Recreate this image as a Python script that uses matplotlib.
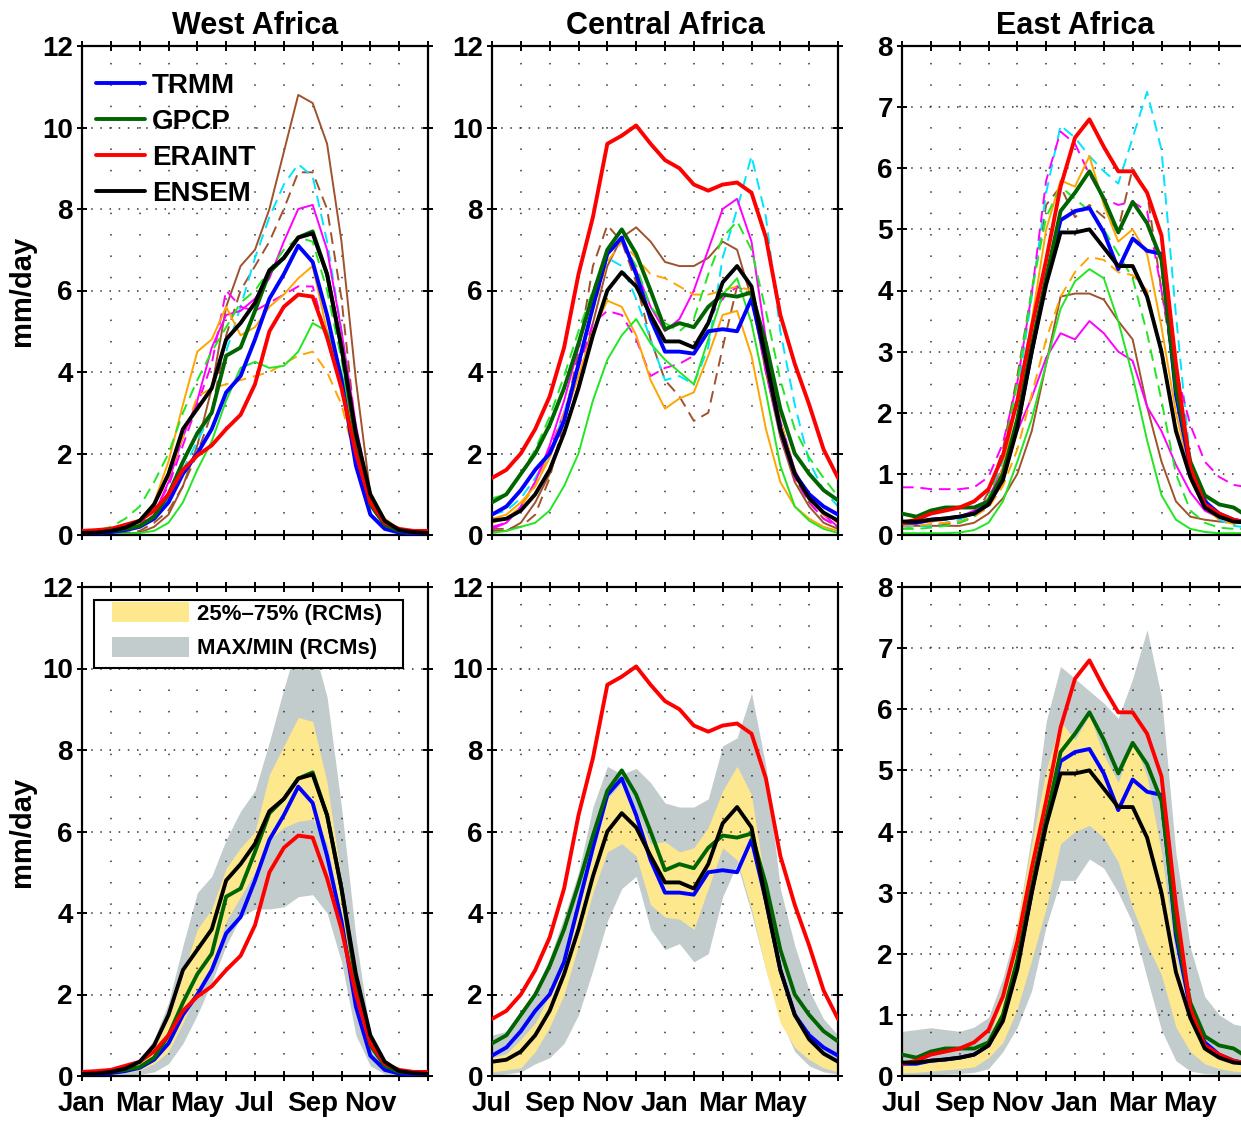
import numpy as np
import matplotlib
matplotlib.use("Agg")
import matplotlib.pyplot as plt
from matplotlib.patches import Patch, Rectangle

plt.rcParams['font.family'] = ['Liberation Sans', 'DejaVu Sans']
plt.rcParams['font.weight'] = 'bold'

# ---------------- data (mm/day, half-month steps over a 12-month cycle) ----------------
regions = ["West Africa", "Central Africa", "East Africa"]
months_wa = ["Jan", "Mar", "May", "Jul", "Sep", "Nov"]
months_jul = ["Jul", "Sep", "Nov", "Jan", "Mar", "May"]

# West Africa
trmm_wa = [0.05,0.05,0.07,0.12,0.2,0.4,0.8,1.5,2.0,2.6,3.5,3.9,4.8,5.8,6.4,7.1,6.7,5.4,3.8,1.7,0.5,0.15,0.06,0.04,0.04]
gpcp_wa = [0.08,0.08,0.1,0.15,0.22,0.45,1.0,1.8,2.5,3.0,4.4,4.6,5.5,6.45,6.8,7.3,7.45,6.4,4.6,2.3,0.75,0.25,0.1,0.08,0.08]
era_wa = [0.1,0.12,0.15,0.25,0.35,0.6,1.0,1.6,1.95,2.2,2.6,2.95,3.7,5.0,5.6,5.9,5.85,4.85,3.6,2.0,0.8,0.3,0.15,0.1,0.1]
ens_wa = [0.05,0.06,0.1,0.18,0.35,0.75,1.5,2.6,3.1,3.6,4.8,5.2,5.7,6.5,6.8,7.3,7.4,6.4,4.6,2.5,1.0,0.35,0.12,0.07,0.05]
brown_s_wa = [0.02,0.02,0.02,0.03,0.06,0.2,0.5,1.2,2.2,3.6,5.6,6.6,7.0,8.0,9.4,10.8,10.6,9.6,7.2,3.8,1.0,0.3,0.1,0.05,0.05]
brown_d_wa = [0.02,0.02,0.03,0.05,0.1,0.3,0.6,1.2,2.0,3.0,4.9,6.0,6.6,7.2,8.0,8.9,8.9,8.0,5.8,2.5,0.5,0.15,0.05,0.02,0.02]
cyan_d_wa = [0.03,0.03,0.05,0.1,0.2,0.45,0.9,1.6,2.3,3.0,4.5,5.6,6.8,7.8,8.6,9.1,8.8,7.2,5.0,2.5,0.7,0.25,0.08,0.04,0.03]
mag_s_wa = [0.03,0.03,0.05,0.1,0.2,0.5,1.3,2.4,3.3,4.6,5.4,5.5,5.8,6.3,7.2,8.0,8.1,7.0,5.0,2.7,0.9,0.3,0.1,0.05,0.03]
mag_d_wa = [0.03,0.03,0.05,0.1,0.25,0.6,1.2,2.2,3.2,4.2,6.0,5.6,5.5,5.7,5.9,6.1,6.1,4.8,3.6,2.0,0.7,0.25,0.08,0.04,0.03]
orange_s_wa = [0.05,0.05,0.08,0.15,0.3,0.8,1.8,3.2,4.5,4.8,5.6,4.9,5.1,5.6,5.9,6.3,6.6,5.0,3.9,2.3,0.9,0.4,0.15,0.05,0.05]
orange_d_wa = [0.05,0.05,0.08,0.15,0.3,0.7,1.4,2.4,3.4,3.6,3.7,3.8,3.9,4.0,4.2,4.4,4.5,4.0,3.2,1.8,0.7,0.3,0.1,0.05,0.05]
lime_s_wa = [0.01,0.01,0.02,0.03,0.05,0.1,0.3,0.8,1.6,2.3,3.3,4.1,4.25,4.1,4.15,4.5,5.2,5.0,4.0,2.4,0.9,0.3,0.1,0.03,0.01]
lime_d_wa = [0.05,0.1,0.2,0.4,0.7,1.3,2.0,3.0,3.8,4.5,5.1,5.7,6.0,6.5,7.0,7.3,7.2,6.0,4.3,2.3,0.8,0.3,0.1,0.05,0.05]
max_wa = [0.06,0.06,0.1,0.2,0.4,0.9,1.8,3.2,4.5,4.9,5.8,6.5,7.0,8.2,9.5,10.7,10.6,9.3,6.6,3.4,1.0,0.4,0.15,0.08,0.06]
min_wa = [0.0,0.0,0.01,0.02,0.04,0.1,0.3,0.8,1.5,2.3,3.2,3.9,4.1,4.1,4.15,4.4,4.45,4.0,2.8,1.0,0.25,0.05,0.02,0.0,0.0]
q75_wa = [0.05,0.05,0.08,0.15,0.3,0.7,1.4,2.5,3.6,4.1,5.1,5.6,6.0,7.4,8.1,8.8,8.7,7.2,4.8,2.4,0.9,0.3,0.12,0.06,0.05]
q25_wa = [0.02,0.02,0.04,0.08,0.15,0.3,0.6,1.3,2.1,2.6,3.8,4.4,5.0,5.8,6.1,6.25,6.3,5.7,3.9,2.0,0.7,0.2,0.08,0.04,0.02]

# Central Africa
trmm_ca = [0.5,0.7,1.1,1.6,2.0,2.8,4.2,5.6,6.9,7.3,6.4,5.3,4.5,4.5,4.45,5.0,5.05,5.0,5.8,4.3,2.6,1.5,1.0,0.7,0.5]
gpcp_ca = [0.8,1.0,1.5,2.0,2.7,3.6,4.7,5.9,7.0,7.5,6.9,6.0,5.05,5.2,5.1,5.6,5.9,5.85,5.95,4.7,3.1,2.0,1.5,1.1,0.85]
era_ca = [1.4,1.6,2.0,2.6,3.4,4.6,6.4,7.8,9.6,9.8,10.05,9.6,9.2,9.0,8.6,8.45,8.6,8.65,8.4,7.3,5.4,4.2,3.2,2.1,1.4]
ens_ca = [0.35,0.4,0.6,1.0,1.6,2.5,3.6,4.9,6.0,6.45,6.1,5.4,4.75,4.75,4.6,5.2,6.2,6.6,6.1,4.3,2.6,1.5,0.9,0.55,0.35]
brown_s_ca = [0.1,0.1,0.3,0.8,1.5,2.5,3.7,5.2,6.6,7.3,7.55,7.2,6.7,6.6,6.6,6.8,7.2,7.0,5.8,4.0,2.4,1.3,0.7,0.3,0.15]
brown_d_ca = [0.15,0.15,0.2,0.5,1.4,2.8,4.5,6.6,7.6,7.2,6.2,4.8,3.8,3.4,2.8,3.0,4.6,6.1,5.9,4.2,2.5,1.4,0.8,0.4,0.2]
cyan_d_ca = [0.5,0.6,0.9,1.4,2.0,3.0,4.2,5.6,6.8,6.6,5.8,4.8,3.8,3.9,3.7,4.6,6.8,8.0,9.3,7.8,5.0,3.2,1.8,1.1,0.7]
mag_s_ca = [0.15,0.3,0.7,1.3,2.2,3.3,4.6,5.9,6.9,7.2,6.5,5.6,5.0,5.3,6.0,7.0,8.0,8.25,7.2,4.8,2.8,1.6,0.9,0.5,0.2]
mag_d_ca = [0.2,0.3,0.7,1.3,2.1,3.0,4.1,5.2,5.5,5.4,4.8,3.9,4.1,4.2,4.4,5.3,5.8,6.1,5.9,4.0,2.5,1.4,0.8,0.4,0.2]
orange_s_ca = [0.4,0.5,0.8,1.2,1.9,2.8,3.9,5.0,5.75,5.6,4.9,3.8,3.1,3.35,3.5,4.4,5.4,5.5,4.4,2.6,1.3,0.7,0.4,0.2,0.1]
orange_d_ca = [0.3,0.4,0.7,1.2,2.0,3.0,4.2,5.5,6.7,7.2,6.8,6.4,6.3,6.1,5.9,5.9,6.0,6.1,6.0,4.5,2.8,1.6,0.9,0.5,0.3]
lime_s_ca = [0.05,0.1,0.2,0.3,0.6,1.2,2.0,3.3,4.3,4.9,5.3,4.7,4.3,4.0,3.7,4.8,5.9,6.3,5.2,3.5,1.7,0.7,0.35,0.15,0.05]
lime_d_ca = [0.9,1.0,1.5,2.1,2.9,3.9,5.0,6.0,6.9,7.2,6.6,5.6,5.2,5.0,5.3,6.4,7.3,7.7,7.0,5.5,3.8,2.6,1.9,1.4,0.95]
max_ca = [1.0,1.1,1.5,2.1,2.9,3.9,5.0,6.6,7.6,7.4,7.55,7.2,6.7,6.6,6.6,6.8,8.1,8.3,9.4,7.6,4.6,3.2,2.1,1.4,1.0]
min_ca = [0.02,0.05,0.1,0.3,0.45,0.8,1.5,2.6,3.8,4.6,4.9,3.6,3.1,3.25,2.8,3.0,4.4,5.2,4.0,2.6,1.4,0.6,0.25,0.1,0.05]
q75_ca = [0.45,0.55,0.9,1.3,2.0,3.0,4.3,5.6,6.8,7.2,6.5,5.7,5.75,5.5,5.6,6.1,7.0,7.6,6.9,4.6,2.6,1.5,0.9,0.5,0.35]
q25_ca = [0.1,0.15,0.2,0.6,1.2,2.0,3.2,4.5,5.5,5.7,5.4,4.2,3.9,3.85,3.6,4.6,5.6,5.3,4.1,2.6,1.3,0.7,0.4,0.2,0.1]

# East Africa
trmm_ea = [0.2,0.2,0.25,0.27,0.3,0.35,0.5,0.95,1.8,3.0,4.2,5.15,5.3,5.35,4.95,4.35,4.85,4.65,4.6,2.3,1.1,0.55,0.35,0.25,0.2]
gpcp_ea = [0.35,0.3,0.4,0.45,0.45,0.45,0.55,1.0,1.9,3.1,4.2,5.3,5.6,5.95,5.5,4.95,5.45,5.1,4.5,2.4,1.2,0.65,0.5,0.45,0.3]
era_ea = [0.2,0.25,0.35,0.4,0.45,0.55,0.75,1.3,2.2,3.4,4.5,5.7,6.5,6.8,6.35,5.95,5.95,5.6,4.9,2.8,1.1,0.5,0.35,0.25,0.2]
ens_ea = [0.22,0.22,0.25,0.27,0.3,0.35,0.5,0.9,1.75,3.0,4.1,4.95,4.95,5.0,4.7,4.4,4.4,3.9,3.0,1.7,0.95,0.45,0.3,0.22,0.2]
brown_s_ea = [0.15,0.15,0.15,0.15,0.15,0.2,0.35,0.6,1.0,1.7,2.8,3.9,3.95,3.95,3.85,3.5,3.2,2.1,1.2,0.55,0.3,0.25,0.22,0.2,0.2]
brown_d_ea = [0.15,0.15,0.15,0.18,0.2,0.3,0.7,1.4,2.6,4.0,5.4,5.7,5.2,5.4,5.2,5.0,6.0,5.6,4.0,2.5,1.2,0.6,0.3,0.2,0.15]
cyan_d_ea = [0.1,0.15,0.15,0.2,0.25,0.35,0.6,1.2,2.3,3.9,5.6,6.7,6.5,6.2,5.95,5.75,6.5,7.25,6.3,3.6,1.2,0.5,0.25,0.15,0.12]
mag_s_ea = [0.2,0.2,0.22,0.25,0.3,0.4,0.6,1.1,1.7,2.25,2.9,3.3,3.2,3.5,3.3,3.0,2.85,2.1,1.7,1.15,0.7,0.4,0.28,0.22,0.2]
mag_d_ea = [0.78,0.78,0.75,0.75,0.75,0.78,0.95,1.5,2.5,3.95,5.8,6.6,6.4,5.9,5.5,5.4,5.45,5.3,4.0,2.7,1.8,1.2,0.95,0.82,0.78]
orange_s_ea = [0.2,0.2,0.22,0.25,0.3,0.35,0.5,1.1,2.2,3.5,5.0,5.8,5.7,6.2,5.4,4.8,5.0,4.6,3.4,2.0,1.0,0.5,0.3,0.22,0.2]
orange_d_ea = [0.15,0.15,0.18,0.2,0.22,0.3,0.45,0.8,1.4,2.3,3.2,3.9,4.3,4.55,4.5,4.3,4.25,4.0,3.0,1.8,0.9,0.45,0.25,0.18,0.15]
lime_s_ea = [0.03,0.03,0.03,0.03,0.04,0.08,0.2,0.55,1.2,1.9,2.8,3.7,4.15,4.35,4.2,3.5,2.6,1.55,0.65,0.25,0.1,0.05,0.03,0.03,0.03]
lime_d_ea = [0.1,0.1,0.12,0.15,0.2,0.3,0.6,1.3,2.5,4.0,5.2,5.7,5.5,5.3,5.0,4.6,4.2,3.3,2.2,1.0,0.4,0.2,0.12,0.1,0.1]
max_ea = [0.73,0.76,0.79,0.76,0.73,0.8,0.96,1.6,2.5,3.95,5.8,6.7,6.5,6.3,6.1,5.85,6.5,7.3,6.2,3.65,2.1,1.3,1.0,0.85,0.8]
min_ea = [0.02,0.02,0.02,0.03,0.04,0.06,0.12,0.4,0.8,1.4,2.45,3.2,3.2,3.55,3.4,3.0,2.5,1.6,0.75,0.25,0.08,0.04,0.03,0.02,0.02]
q75_ea = [0.25,0.25,0.28,0.3,0.32,0.4,0.6,1.3,2.5,3.8,5.0,5.8,5.5,5.9,5.25,4.8,5.5,4.9,3.65,1.95,1.0,0.5,0.3,0.25,0.2]
q25_ea = [0.05,0.06,0.08,0.1,0.12,0.15,0.3,0.55,1.1,1.9,2.75,3.8,4.0,4.1,3.9,3.5,2.75,2.15,1.65,0.8,0.4,0.2,0.12,0.08,0.06]

# ---------------- styling ----------------
OBS = [("TRMM", "#0000ff"), ("GPCP", "#006400"), ("ERAINT", "#ff0000"), ("ENSEM", "#000000")]
RCM_STYLES = [("#a0522d", "-"), ("#a0522d", "--"), ("#00e5ff", "--"),
              ("#ff00ff", "-"), ("#ff00ff", "--"), ("#ffa500", "-"),
              ("#ffa500", "--"), ("#22e622", "-"), ("#22e622", "--")]
YELLOW = "#fee88e"
GREY = "#c2cccc"
FS = 20

panels = [
    dict(obs=[trmm_wa, gpcp_wa, era_wa, ens_wa],
         rcm=[brown_s_wa, brown_d_wa, cyan_d_wa, mag_s_wa, mag_d_wa, orange_s_wa, orange_d_wa, lime_s_wa, lime_d_wa],
         band=(min_wa, max_wa, q25_wa, q75_wa), ymax=12, ystep=2, labels=months_wa),
    dict(obs=[trmm_ca, gpcp_ca, era_ca, ens_ca],
         rcm=[brown_s_ca, brown_d_ca, cyan_d_ca, mag_s_ca, mag_d_ca, orange_s_ca, orange_d_ca, lime_s_ca, lime_d_ca],
         band=(min_ca, max_ca, q25_ca, q75_ca), ymax=12, ystep=2, labels=months_jul),
    dict(obs=[trmm_ea, gpcp_ea, era_ea, ens_ea],
         rcm=[brown_s_ea, brown_d_ea, cyan_d_ea, mag_s_ea, mag_d_ea, orange_s_ea, orange_d_ea, lime_s_ea, lime_d_ea],
         band=(min_ea, max_ea, q25_ea, q75_ea), ymax=8, ystep=1, labels=months_jul),
]

W, H = 1241, 1122
fig = plt.figure(figsize=(W / 100, H / 100), dpi=100)

col_left = [82, 492, 902]
ax_w = 346
row_top = [46, 587]
ax_h = 489

t = np.arange(25) * 0.5  # months since start of the cycle


def style_axes(ax, p, bottom_row):
    ax.set_xlim(0, 12)
    ax.set_ylim(0, p["ymax"])
    ax.set_xticks(np.arange(13))
    if bottom_row:
        ax.set_xticklabels([p["labels"][i // 2] if (i % 2 == 0 and i < 12) else "" for i in range(13)])
    else:
        ax.set_xticklabels([])
    ax.set_yticks(np.arange(0, p["ymax"] + 0.01, p["ystep"]))
    ax.tick_params(direction="inout", length=7, width=1.4, top=True, right=True,
                   labelsize=FS, pad=3)
    ax.tick_params(axis="x", pad=7)
    for lab in ax.get_xticklabels() + ax.get_yticklabels():
        lab.set_fontweight("bold")
    for s in ax.spines.values():
        s.set_linewidth(1.6)
    ax.set_axisbelow("line")
    ax.xaxis.grid(True, linestyle=(0, (1, 13)), color="0.2", linewidth=1.1)
    ax.yaxis.grid(True, linestyle=(0, (1, 5)), color="0.2", linewidth=1.1)


def px_to_axes(x, y, row):
    """Figure pixel position -> axes fraction for the given row of panel 1."""
    return (x - col_left[0]) / ax_w, 1 - (y - row_top[row]) / ax_h


for c, p in enumerate(panels):
    # top row: every model plus observations
    ax = fig.add_axes([col_left[c] / W, 1 - (row_top[0] + ax_h) / H, ax_w / W, ax_h / H])
    style_axes(ax, p, False)
    for vals, (col, ls) in zip(p["rcm"], RCM_STYLES):
        line, = ax.plot(t, vals, color=col, lw=1.4, ls=ls, zorder=2)
        if ls == "--":
            line.set_dashes((6, 3.5))
    for vals, (name, col) in zip(p["obs"], OBS):
        ax.plot(t, vals, color=col, lw=2.8, label=name, zorder=3, solid_capstyle="round")
    ax.set_title(regions[c], fontsize=22, fontweight="bold", pad=9)
    if c == 0:
        ax.set_ylabel("mm/day", fontsize=21, fontweight="bold")
        ax.yaxis.set_label_coords(-0.133, 0.5)
        ax.legend(loc="upper left", bbox_to_anchor=px_to_axes(96, 73, 0), frameon=False,
                  handlelength=1.76, handletextpad=0.25, labelspacing=0.36,
                  borderaxespad=0, borderpad=0,
                  prop=dict(family="Liberation Sans", weight="bold", size=FS))

    # bottom row: RCM spread bands with observations
    ax = fig.add_axes([col_left[c] / W, 1 - (row_top[1] + ax_h) / H, ax_w / W, ax_h / H])
    style_axes(ax, p, True)
    lo, hi, q25, q75 = p["band"]
    ax.fill_between(t, lo, hi, color=GREY, lw=0, zorder=1)
    ax.fill_between(t, q25, q75, color=YELLOW, lw=0, zorder=1.1)
    for vals, (name, col) in zip(p["obs"], OBS):
        ax.plot(t, vals, color=col, lw=2.8, zorder=3, solid_capstyle="round")
    if c == 0:
        ax.set_ylabel("mm/day", fontsize=21, fontweight="bold")
        ax.yaxis.set_label_coords(-0.133, 0.5)
        # legend frame box
        x0, y1 = px_to_axes(94, 600, 1)
        x1, y0 = px_to_axes(403, 668, 1)
        ax.add_patch(Rectangle((x0, y0), x1 - x0, y1 - y0, transform=ax.transAxes,
                               facecolor="white", edgecolor="black", lw=1.5, zorder=5))
        handles = [Patch(facecolor=YELLOW, edgecolor="none", label="25%\u201375% (RCMs)"),
                   Patch(facecolor=GREY, edgecolor="none", label="MAX/MIN (RCMs)")]
        leg = ax.legend(handles=handles, loc="upper left", bbox_to_anchor=px_to_axes(112, 602, 1),
                        frameon=False, handlelength=3.45, handleheight=1.0, handletextpad=0.36,
                        labelspacing=0.55, borderpad=0, borderaxespad=0,
                        prop=dict(family="Liberation Sans", weight="bold", size=16))
        leg.set_zorder(6)

fig.savefig("out.png", dpi=100)
